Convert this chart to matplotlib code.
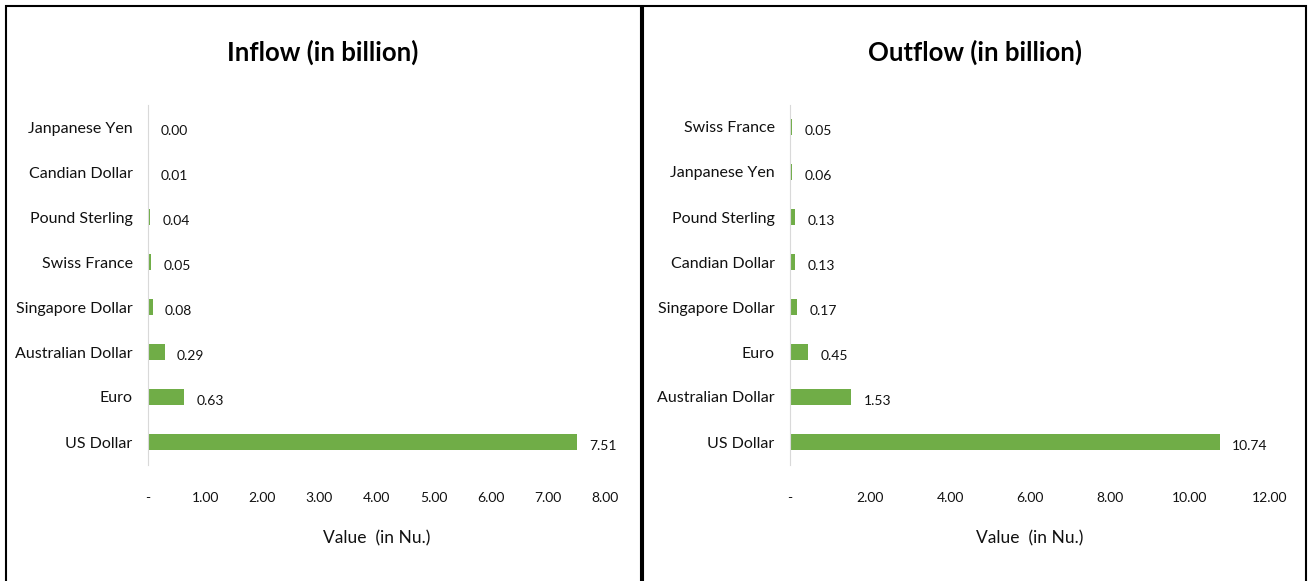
import matplotlib.pyplot as plt
from matplotlib.patches import Rectangle
from matplotlib.ticker import FuncFormatter

plt.rcParams['font.family'] = ['Lato', 'DejaVu Sans']

# data, bottom to top as drawn
inflow_cats = ['US Dollar', 'Euro', 'Australian Dollar', 'Singapore Dollar',
               'Swiss France', 'Pound Sterling', 'Candian Dollar', 'Janpanese Yen']
inflow_vals = [7.51, 0.63, 0.29, 0.08, 0.05, 0.04, 0.01, 0.00]

outflow_cats = ['US Dollar', 'Australian Dollar', 'Euro', 'Singapore Dollar',
                'Candian Dollar', 'Pound Sterling', 'Janpanese Yen', 'Swiss France']
outflow_vals = [10.74, 1.53, 0.45, 0.17, 0.13, 0.13, 0.06, 0.05]

inflow_ticks = [0, 1, 2, 3, 4, 5, 6, 7, 8]
outflow_ticks = [0, 2, 4, 6, 8, 10, 12]

GREEN = '#70AD47'
W, H = 1310, 581

fig = plt.figure(figsize=(W / 100, H / 100), dpi=100)


def fmt(v, pos):
    return '-' if v == 0 else f'{v:.2f}'


def draw_panel(ax, cats, vals, ticks, title, cx):
    y = range(len(cats))
    ax.barh(y, vals, height=0.36, color=GREEN)
    for yi, v in zip(y, vals):
        ax.annotate(f'{v:.2f}', (v, yi), xytext=(9, -3), textcoords='offset points',
                    ha='left', va='center', fontsize=10, color='#111111')
    ax.set_yticks(list(y))
    ax.set_yticklabels(cats, fontsize=11.5, color='#111111')
    ax.set_ylim(-0.5, len(cats) - 0.5)
    ax.set_xlim(ticks[0], ticks[-1])
    ax.set_xticks(ticks)
    ax.xaxis.set_major_formatter(FuncFormatter(fmt))
    ax.tick_params(axis='y', length=0, pad=11)
    ax.tick_params(axis='x', length=0, pad=20, labelsize=10, labelcolor='#111111')
    for s in ['top', 'right', 'bottom']:
        ax.spines[s].set_visible(False)
    ax.spines['left'].set_color('#D9D9D9')
    ax.set_xlabel('Value  (in Nu.)', fontsize=12.5, labelpad=19, color='#111111')
    fig.text(cx / W, 1 - 52 / H, title, ha='center', va='center',
             fontsize=18.5, fontweight='bold')


ax1 = fig.add_axes([148 / W, 1 - 464.5 / H, 457 / W, 360 / H])
draw_panel(ax1, inflow_cats, inflow_vals, inflow_ticks, 'Inflow (in billion)', 323)

ax2 = fig.add_axes([790 / W, 1 - 464.5 / H, 480 / W, 360 / H])
draw_panel(ax2, outflow_cats, outflow_vals, outflow_ticks, 'Outflow (in billion)', 975)

# panel borders (bottom edge runs off the image, as in the source)
fig.patches.append(Rectangle((6 / W, -10 / H), 635 / W, 585 / H, transform=fig.transFigure,
                             fill=False, edgecolor='black', linewidth=1.5))
fig.patches.append(Rectangle((643 / W, -10 / H), 663 / W, 585 / H, transform=fig.transFigure,
                             fill=False, edgecolor='black', linewidth=1.5))

fig.savefig('out.png', dpi=100)
